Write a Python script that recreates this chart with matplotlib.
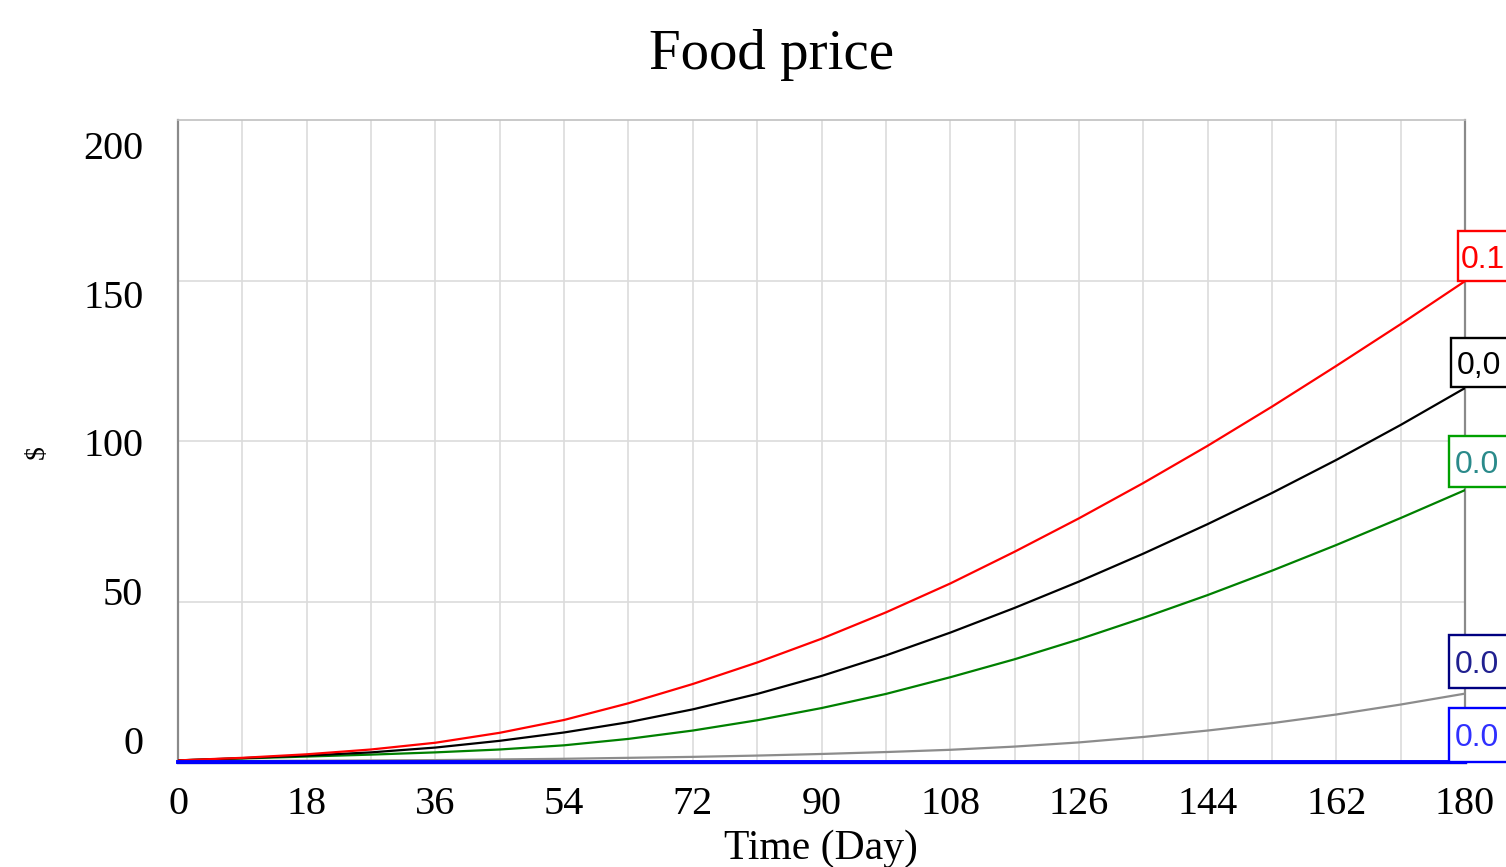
import matplotlib
matplotlib.use("Agg")
import matplotlib.pyplot as plt
from matplotlib.patches import Rectangle
import numpy as np

# ---- data ----
days = list(range(0, 181, 9))
red_vals   = [0.5, 1.3, 2.4, 3.9, 6.0, 9.1, 13.1, 18.3, 24.3, 31.0, 38.4, 46.6, 55.6, 65.5, 75.9, 86.9, 98.5, 110.7, 123.4, 136.4, 149.8]
black_vals = [0.5, 1.2, 2.0, 3.0, 4.5, 6.6, 9.2, 12.4, 16.4, 21.2, 26.8, 33.2, 40.3, 48.0, 56.2, 64.9, 74.1, 83.8, 94.1, 105.0, 116.5]
green_vals = [0.5, 1.1, 1.7, 2.3, 3.0, 3.9, 5.2, 7.2, 9.8, 13.0, 16.8, 21.2, 26.4, 32.0, 38.2, 44.9, 52.0, 59.6, 67.6, 76.0, 84.7]
gray_vals  = [0.3, 0.3, 0.4, 0.5, 0.6, 0.8, 1.0, 1.3, 1.6, 2.0, 2.5, 3.1, 3.8, 4.8, 6.1, 7.8, 9.8, 12.1, 14.8, 17.9, 21.3]
navy_vals  = [0.0] * 21
blue_vals  = [0.0] * 21

x_ticks = list(range(0, 181, 18))
y_ticks = [0, 50, 100, 150, 200]
box_texts = ["0.1", "0,0", "0.0", "0.0", "0.0"]

title = "Food price"
xlabel = "Time (Day)"
ylabel = "$"

# ---- figure ----
W, H = 1506, 867
fig = plt.figure(figsize=(W / 100, H / 100), dpi=100)
ax = fig.add_axes([178 / W, 1 - 762 / H, (1465 - 178) / W, (762 - 120) / H])
serif = "Liberation Serif"

ax.set_xlim(0, 180)
ax.set_ylim(0, 200)

# grid
ax.set_xticks(x_ticks)
ax.set_xticklabels([str(t) for t in x_ticks], fontsize=29, family=serif)
ax.set_xticks(days, minor=True)
ax.grid(True, axis="x", which="both", color="#dcdcdc", linewidth=1.2)
for v in y_ticks[1:-1]:
    ax.axhline(v, color="#dcdcdc", linewidth=1.2, zorder=0.5)
ax.set_axisbelow(True)

# y labels (Vensim places them compressed toward the middle)
ypos = [6.9 + v * 0.927 for v in y_ticks]
ax.set_yticks(ypos)
ax.set_yticklabels([str(t) for t in y_ticks], fontsize=29, family=serif)
ax.tick_params(axis="both", which="both", length=0)
ax.tick_params(axis="y", pad=25)
ax.tick_params(axis="x", pad=17)

for s in ["left", "right", "bottom"]:
    ax.spines[s].set_color("#8a8a8a")
    ax.spines[s].set_linewidth(1.6)
ax.spines["top"].set_color("#c0c0c0")
ax.spines["top"].set_linewidth(1.2)

# lines
ax.plot(days, navy_vals, color="#000080", linewidth=2.4, clip_on=False, zorder=3)
ax.plot(days, gray_vals, color="#8c8c8c", linewidth=1.6, zorder=3)
ax.plot(days, green_vals, color="#008000", linewidth=1.6, zorder=3)
ax.plot(days, black_vals, color="#000000", linewidth=1.6, zorder=3)
ax.plot(days, red_vals, color="#ff0000", linewidth=1.6, zorder=3)
ax.plot(days, blue_vals, color="#0000ff", linewidth=2.8, clip_on=False, zorder=4)

# end labels: boxes anchored at the line ends, running off the right edge
ends = [red_vals[-1], black_vals[-1], green_vals[-1], gray_vals[-1], blue_vals[-1]]
tcols = ["#ff0000", "#000000", "#2a8a8a", "#202090", "#3030ff"]
bcols = ["#ff0000", "#000000", "#00a000", "#000080", "#0000ff"]
dxs = [-7, -14, -16, -16, -16]
dys = [0, 1, 3, 6, 0]
hts = [50, 49, 51, 53, 54]
txs = [3, 6, 6, 6, 6]
for txt, yv, tc, bc, dx, dy, h, tx in zip(box_texts, ends, tcols, bcols, dxs, dys, hts, txs):
    px, py = ax.transData.transform((days[-1], yv))
    left = px + dx
    bottom = py + dy
    fig.add_artist(Rectangle((left / W, bottom / H), (W + 20 - left) / W, h / H,
                             transform=fig.transFigure, facecolor="white", edgecolor=bc,
                             linewidth=1.7, clip_on=False, zorder=6))
    fig.text((left + tx) / W, (bottom + h / 2) / H, txt, ha="left", va="center_baseline",
             fontsize=23, color=tc, family="Liberation Sans", zorder=7)

fig.text(772 / W, 1 - 55 / H, title, ha="center", va="center", fontsize=41, family=serif)
fig.text(821 / W, 1 - 849 / H, xlabel, ha="center", va="center", fontsize=30, family=serif)
fig.text(37 / W, 1 - 452 / H, ylabel, ha="center", va="center", fontsize=20, family=serif, rotation=90)

fig.savefig("out.png", dpi=100)
